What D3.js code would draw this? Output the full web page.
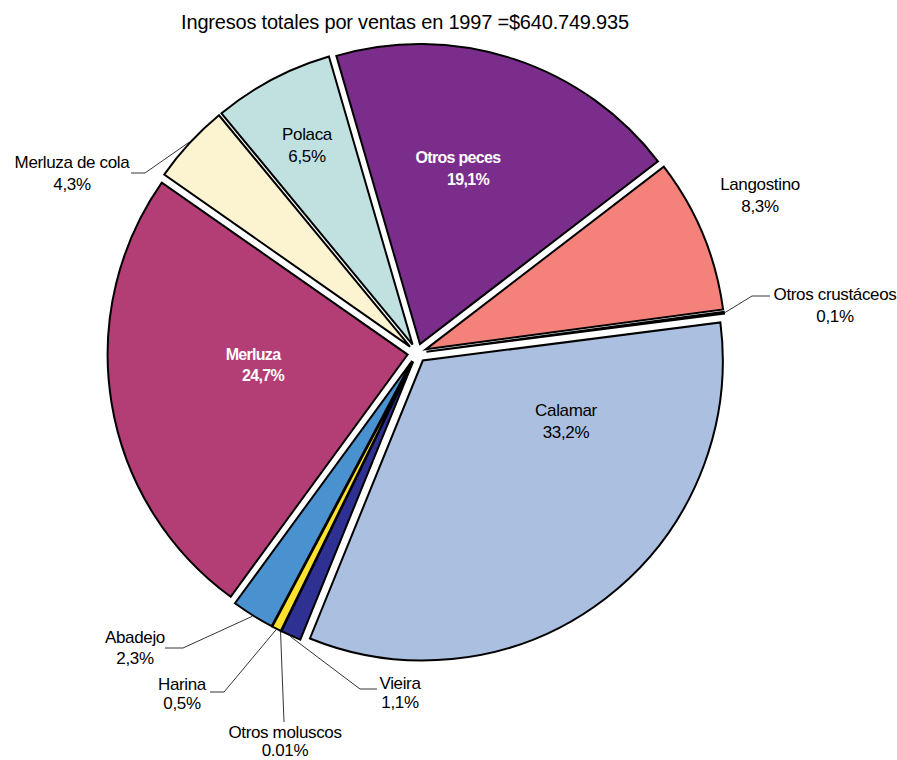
<!DOCTYPE html>
<html>
<head>
<meta charset="utf-8">
<script src="https://cdn.jsdelivr.net/npm/d3@7"></script>
<style>
  html, body { margin: 0; padding: 0; background: #fff; }
  svg { display: block; }
  text { font-family: "Liberation Sans", Arial, sans-serif; }
</style>
</head>
<body>
<svg id="chart" width="897" height="760"></svg>
<script>
// Revenue share by product, 1997
const categories = ["Langostino", "Otros crustáceos", "Calamar", "Vieira", "Otros moluscos",
                    "Harina", "Abadejo", "Merluza", "Merluza de cola", "Polaca", "Otros peces"];
const shares = [8.3, 0.1, 33.2, 1.1, 0.01, 0.5, 2.3, 24.7, 4.3, 6.5, 19.1];
const shareLabels = ["8,3%", "0,1%", "33,2%", "1,1%", "0.01%", "0,5%", "2,3%", "24,7%", "4,3%", "6,5%", "19,1%"];
const colors = ["#F4817A", "#D0D0D0", "#ABBFE0", "#2E3192", "#6A6A6A",
                "#FFE22E", "#4A91CF", "#B33D75", "#FCF3D1", "#C1E1E0", "#7A2D8B"];
const title = "Ingresos totales por ventas en 1997 =$640.749.935";

// Label layout: text centre (x, y of first line), line gap, optional leader elbow points
const labelLayout = [
  { x: 760, y: 190, gap: 22, fill: "#000", bold: false },                                     // Langostino
  { x: 835, y: 300, gap: 22, fill: "#000", bold: false, leader: [[752, 296], [770, 296]] },    // Otros crustáceos
  { x: 566, y: 416, gap: 22, fill: "#000", bold: false },                                     // Calamar
  { x: 400, y: 689, gap: 19, fill: "#000", bold: false, leader: [[360, 689], [377, 689]] },    // Vieira
  { x: 285, y: 738, gap: 18, fill: "#000", bold: false, leader: [[284, 722]] },               // Otros moluscos
  { x: 182, y: 690, gap: 19, fill: "#000", bold: false, leader: [[224, 692], [210, 692]] },    // Harina
  { x: 135, y: 643, gap: 21, fill: "#000", bold: false, leader: [[183, 648], [165, 648]] },    // Abadejo
  { x: 253, y: 360, gap: 21, fill: "#fff", bold: true },                                      // Merluza
  { x: 72,  y: 168, gap: 22, fill: "#000", bold: false, leader: [[145, 173], [131, 173]] },    // Merluza de cola
  { x: 307, y: 140, gap: 22, fill: "#000", bold: false },                                     // Polaca
  { x: 458, y: 163, gap: 22, fill: "#fff", bold: true }                                       // Otros peces
];

const cx = 417, cy = 353, radius = 300, explode = 9.5;
const startAngle = 52.5 * Math.PI / 180;

const svg = d3.select("#chart");

svg.append("text")
  .attr("x", 405).attr("y", 29)
  .attr("text-anchor", "middle")
  .attr("font-size", 20)
  .attr("letter-spacing", -0.2)
  .attr("fill", "#000")
  .text(title);

const data = categories.map((c, i) => ({ name: c, value: shares[i], label: shareLabels[i], color: colors[i], layout: labelLayout[i] }));

const pie = d3.pie().sort(null).value(d => d.value)
  .startAngle(startAngle).endAngle(startAngle + 2 * Math.PI);
const arcs = pie(data);
const arc = d3.arc().innerRadius(0).outerRadius(radius);

const g = svg.append("g").attr("transform", `translate(${cx},${cy})`);

function offset(a) {
  const mid = (a.startAngle + a.endAngle) / 2;
  return [explode * Math.sin(mid), -explode * Math.cos(mid)];
}

g.selectAll("path.slice")
  .data(arcs)
  .join("path")
  .attr("class", "slice")
  .attr("transform", d => { const o = offset(d); return `translate(${o[0]},${o[1]})`; })
  .attr("d", arc)
  .attr("fill", d => d.data.color)
  .attr("stroke", "#000")
  .attr("stroke-width", 2)
  .attr("stroke-linejoin", "miter");

// Leader lines from the outer edge of each small slice to its label
const leaders = svg.append("g").attr("fill", "none").attr("stroke", "#000").attr("stroke-width", 0.8);
arcs.forEach(d => {
  const L = d.data.layout;
  if (!L.leader) return;
  const mid = (d.startAngle + d.endAngle) / 2;
  const o = offset(d);
  const r = radius + 1;
  const p0 = [cx + o[0] + r * Math.sin(mid), cy + o[1] - r * Math.cos(mid)];
  leaders.append("path").attr("d", d3.line()([p0, ...L.leader]));
});

// Labels
const labels = svg.append("g");
arcs.forEach(d => {
  const L = d.data.layout;
  const t = labels.append("text")
    .attr("text-anchor", "middle")
    .attr("font-size", L.bold ? 16 : 17)
    .attr("letter-spacing", L.bold ? -0.7 : -0.35)
    .attr("font-weight", L.bold ? "bold" : "normal")
    .attr("fill", L.fill);
  t.append("tspan").attr("x", L.x).attr("y", L.y).text(d.data.name);
  t.append("tspan").attr("x", L.x + (L.bold ? 10 : 0)).attr("y", L.y + L.gap).text(d.data.label);
});
</script>
</body>
</html>
